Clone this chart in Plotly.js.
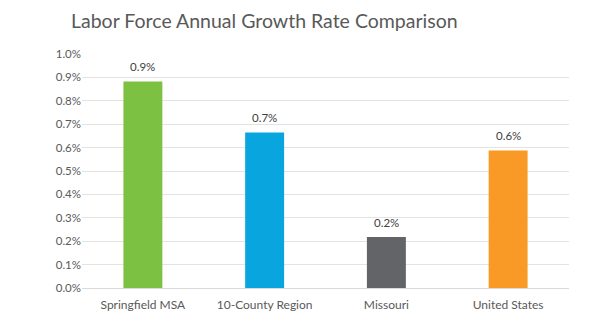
<!DOCTYPE html>
<html><head><meta charset="utf-8">
<script src="https://cdn.plot.ly/plotly-3.0.1.min.js"></script>
<style>html,body{margin:0;padding:0;background:#fff}#chart{width:613px;height:326px}</style>
</head><body><div id="chart"></div>
<script>
var categories = ["Springfield MSA", "10-County Region", "Missouri", "United States"];
var growthRates = [0.883, 0.665, 0.218, 0.588];
var barColors = ["#7dc142", "#08a5df", "#636467", "#f99a26"];
var tickVals = [0, 0.1, 0.2, 0.3, 0.4, 0.5, 0.6, 0.7, 0.8, 0.9, 1.0];
var tickText = ["0.0%", "0.1%", "0.2%", "0.3%", "0.4%", "0.5%", "0.6%", "0.7%", "0.8%", "0.9%", "1.0%"];

var fontFam = "Lato, 'Open Sans', sans-serif";
var labelAnnotations = categories.map(function (c, i) {
  return {x: c, y: growthRates[i], xref: "x", yref: "y", text: growthRates[i].toFixed(1) + "%",
          showarrow: false, yanchor: "bottom", yshift: 6,
          font: {family: fontFam, size: 11.5, color: "#404040"}};
});
Plotly.newPlot("chart", [{
  type: "bar",
  x: categories,
  y: growthRates,
  marker: {color: barColors},
  hoverinfo: "none"
}], {
  width: 613, height: 326,
  margin: {l: 82, r: 44, t: 54, b: 38},
  paper_bgcolor: "#fff", plot_bgcolor: "#fff",
  bargap: 0.68,
  showlegend: false,
  annotations: labelAnnotations,
  title: {text: "Labor Force Annual Growth Rate Comparison", font: {family: fontFam, size: 19.5, color: "#595959"},
          x: 71 / 613, xanchor: "left", xref: "container", y: 1 - 21 / 326, yref: "container", yanchor: "middle"},
  xaxis: {tickfont: {family: fontFam, size: 12, color: "#595959"}, showline: false, ticks: "", ticklabelstandoff: 8, fixedrange: true},
  yaxis: {range: [0, 1.0], tickvals: tickVals, ticktext: tickText, tickfont: {family: fontFam, size: 11.5, color: "#595959"},
          gridcolor: "#e3e3e3", gridwidth: 1, zeroline: true, zerolinecolor: "#d9d9d9", zerolinewidth: 1, ticks: "", ticklen: 0, fixedrange: true}
}, {staticPlot: true, displayModeBar: false});
</script></body></html>
